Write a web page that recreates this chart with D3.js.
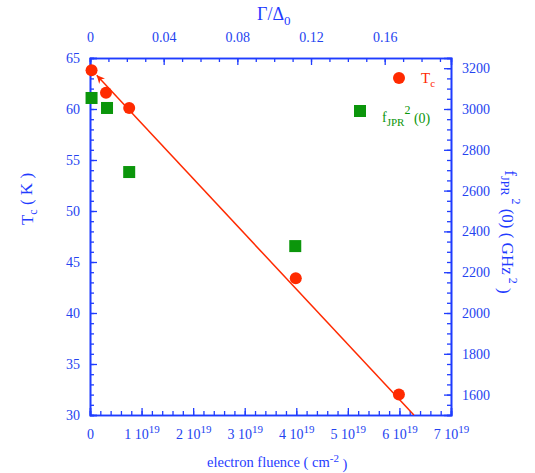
<!DOCTYPE html>
<html>
<head>
<meta charset="utf-8">
<script src="https://cdn.jsdelivr.net/npm/d3@7"></script>
<style>
  body { margin: 0; background: #fff; }
  svg { display: block; }
  text { font-family: "Liberation Serif", "Times New Roman", serif; }
</style>
</head>
<body>
<div id="container"></div>
<script>
// fluence in units of 1e19 cm^-2
const tcFluence = [0.03, 0.31, 0.76, 3.99, 5.99];
const tcValues = [63.8, 61.6, 60.1, 43.4, 32.0];

const fjprFluence = [0.03, 0.33, 0.76, 3.98];
const fjprValues = [3054, 3005, 2691, 2328];

// linear fit of Tc, end points
const fitFluence = [0.13, 6.28];
const fitTc = [63.3, 30.0];

const xTicks = [0, 1, 2, 3, 4, 5, 6, 7];
const leftTicks = [30, 35, 40, 45, 50, 55, 60, 65];
const rightTicks = [1600, 1800, 2000, 2200, 2400, 2600, 2800, 3000, 3200];
const topTicks = [0, 0.04, 0.08, 0.12, 0.16];

const W = 535, H = 473;
const L = 90, R = 451, T = 58, B = 415;
const BLUE = "#1f3cff", TXT = "#2443f0", RED = "#ff2a00", GREEN = "#0b960b";

const svg = d3.select("#container").append("svg")
  .attr("width", W)
  .attr("height", H);

const x = d3.scaleLinear().domain([0, 7]).range([L, R]);
const yL = d3.scaleLinear().domain([30, 65]).range([B, T]);
const yR = d3.scaleLinear().domain([1500, 3250]).range([B, T]);
const xTop = d3.scaleLinear().domain([0, 0.196]).range([L, R]);

/* ---------------- AXES ---------------- */
function minor(scale, step) {
  const [a, b] = scale.domain();
  return d3.range(Math.ceil(a / step - 1e-9), Math.floor(b / step + 1e-9) + 1).map(i => +(i * step).toFixed(6));
}

function styleAxis(g) {
  g.select(".domain").attr("stroke", BLUE).attr("stroke-width", 1.6);
  g.selectAll(".tick line").attr("stroke", BLUE).attr("stroke-width", 1.3);
  g.selectAll(".tick text").attr("fill", TXT).attr("font-size", 14)
    .attr("font-family", "Liberation Serif, serif");
}

function addAxis(gen, pos, scale, majors, step, fmt, pad) {
  const gMin = svg.append("g").attr("transform", pos)
    .call(gen(scale).tickValues(minor(scale, step)).tickSize(-4).tickFormat(""));
  styleAxis(gMin);
  const g = svg.append("g").attr("transform", pos)
    .call(gen(scale).tickValues(majors).tickSize(-7).tickPadding(pad).tickFormat(fmt));
  styleAxis(g);
  return g;
}

const gx = addAxis(d3.axisBottom, `translate(0,${B})`, x, xTicks, 0.2, d => d, 14);
gx.selectAll(".tick text").each(function(d) {
  const t = d3.select(this).text("");
  if (d === 0) { t.text("0"); return; }
  t.append("tspan").text(d + " 10");
  t.append("tspan").attr("dy", "-0.5em").attr("font-size", 11).text("19");
});

addAxis(d3.axisTop, `translate(0,${T})`, xTop, topTicks, 0.01, d => d === 0 ? "0" : d3.format(".2f")(d), 16);
addAxis(d3.axisLeft, `translate(${L},0)`, yL, leftTicks, 1, d => d, 10);
addAxis(d3.axisRight, `translate(${R},0)`, yR, rightTicks, 50, d => d, 11);

/* ---------------- AXIS TITLES ---------------- */
const leftTitle = svg.append("text")
  .attr("transform", "translate(33,199) rotate(-90)")
  .attr("text-anchor", "middle")
  .attr("fill", BLUE).attr("font-size", 17);
leftTitle.append("tspan").text("T");
leftTitle.append("tspan").attr("dy", "0.3em").attr("font-size", 12).text("c");
leftTitle.append("tspan").attr("dy", "-0.3em").text(" ( K )");

const rightTitle = svg.append("text")
  .attr("transform", "translate(505,232) rotate(90)")
  .attr("text-anchor", "middle")
  .attr("fill", BLUE).attr("font-size", 17);
rightTitle.append("tspan").text("f");
rightTitle.append("tspan").attr("dy", "0.35em").attr("font-size", 12).text("JPR");
rightTitle.append("tspan").attr("dy", "-0.9em").attr("font-size", 12).text(" 2");
rightTitle.append("tspan").attr("dy", "0.55em").text(" (0) ( GHz");
rightTitle.append("tspan").attr("dy", "-0.55em").attr("font-size", 12).text(" 2");
rightTitle.append("tspan").attr("dy", "0.55em").text(" )");

const topTitle = svg.append("text")
  .attr("x", 257).attr("y", 20)
  .attr("fill", BLUE).attr("font-size", 18);
topTitle.append("tspan").text("Γ/Δ");
topTitle.append("tspan").attr("dy", "0.4em").attr("font-size", 13).text("0");

const bottomTitle = svg.append("text")
  .attr("x", 207).attr("y", 467)
  .attr("fill", BLUE).attr("font-size", 14.5);
bottomTitle.append("tspan").text("electron fluence ( cm");
bottomTitle.append("tspan").attr("dy", "-0.5em").attr("font-size", 11).text("-2");
bottomTitle.append("tspan").attr("dy", "0.5em").text(" )");

/* ---------------- FIT LINE ---------------- */
svg.append("defs").append("marker")
  .attr("id", "arrow")
  .attr("viewBox", "0 0 10 10")
  .attr("refX", 10).attr("refY", 5)
  .attr("markerWidth", 8).attr("markerHeight", 8)
  .attr("markerUnits", "userSpaceOnUse")
  .attr("orient", "auto-start-reverse")
  .append("path")
  .attr("d", "M0,0 L10,5 L0,10 L3,5 z")
  .attr("fill", RED);

const fit = fitFluence.map((f, i) => [f, fitTc[i]]);
svg.append("path")
  .datum(fit)
  .attr("d", d3.line().x(d => x(d[0])).y(d => yL(d[1])))
  .attr("stroke", RED)
  .attr("stroke-width", 1.5)
  .attr("fill", "none")
  .attr("marker-start", "url(#arrow)");

/* ---------------- POINTS ---------------- */
const sq = 12;
svg.selectAll("rect.fjpr")
  .data(fjprFluence.map((f, i) => [f, fjprValues[i]]))
  .enter()
  .append("rect")
  .attr("class", "fjpr")
  .attr("x", d => x(d[0]) - sq / 2)
  .attr("y", d => yR(d[1]) - sq / 2)
  .attr("width", sq).attr("height", sq)
  .attr("fill", GREEN);

svg.selectAll("circle.tc")
  .data(tcFluence.map((f, i) => [f, tcValues[i]]))
  .enter()
  .append("circle")
  .attr("class", "tc")
  .attr("cx", d => x(d[0]))
  .attr("cy", d => yL(d[1]))
  .attr("r", 6)
  .attr("fill", RED);

/* ---------------- LEGEND ---------------- */
svg.append("circle").attr("cx", 399).attr("cy", 78).attr("r", 6).attr("fill", RED);
const lt = svg.append("text").attr("x", 421).attr("y", 83)
  .attr("fill", RED).attr("font-size", 15);
lt.append("tspan").text("T");
lt.append("tspan").attr("dy", "0.35em").attr("font-size", 11).text("c");

svg.append("rect").attr("x", 360 - sq / 2).attr("y", 111 - sq / 2)
  .attr("width", sq).attr("height", sq).attr("fill", GREEN);
const lf = svg.append("text").attr("x", 382).attr("y", 122)
  .attr("fill", GREEN).attr("font-size", 14);
lf.append("tspan").text("f");
lf.append("tspan").attr("dy", "0.35em").attr("font-size", 11).text("JPR");
lf.append("tspan").attr("dy", "-0.95em").attr("font-size", 12).text("2");
lf.append("tspan").attr("dy", "0.6em").text(" (0)");
</script>
</body>
</html>
